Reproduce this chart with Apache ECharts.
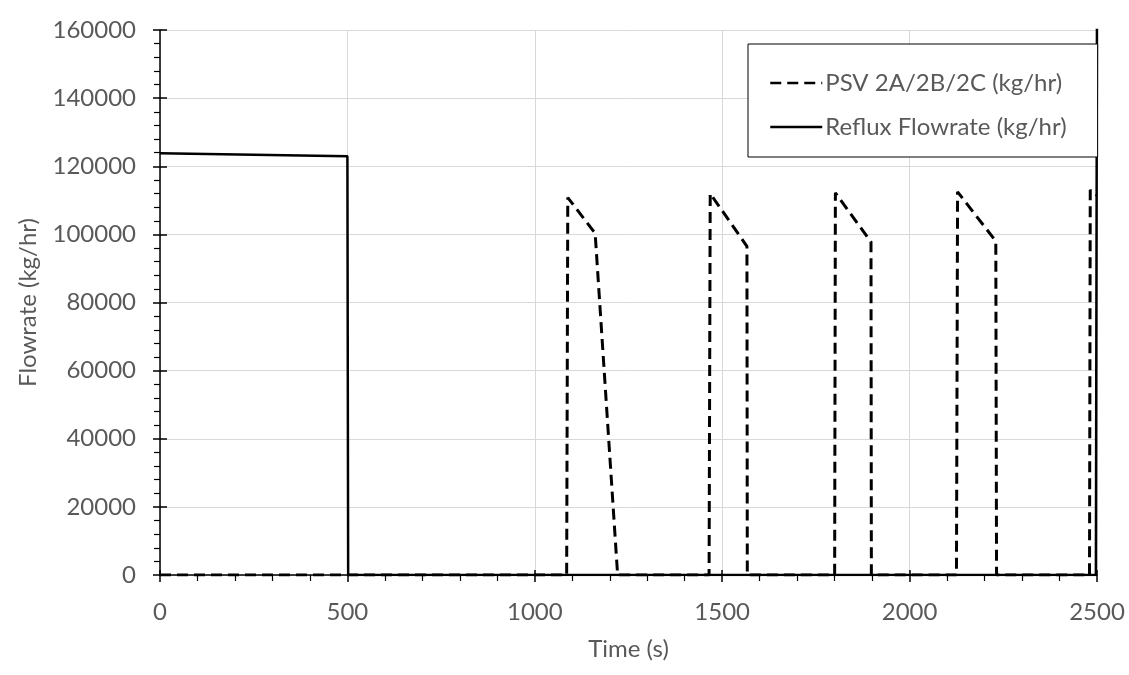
<!DOCTYPE html>
<html>
<head>
<meta charset="utf-8">
<script src="https://cdn.jsdelivr.net/npm/echarts@6/dist/echarts.min.js"></script>
<style>
html,body{margin:0;padding:0;background:#fff;}
#chart{width:1129px;height:675px;}
</style>
</head>
<body>
<div id="chart"></div>
<script>
// Time (s) and flowrate (kg/hr)
const psvTime  = [0, 1085, 1088, 1161, 1221, 1465, 1468, 1566, 1567, 1800, 1802, 1897, 1898, 2125, 2128, 2230, 2232, 2480, 2482, 2500];
const psvFlow  = [0, 0, 110800, 100300, 0, 0, 112000, 96500, 0, 0, 112200, 97800, 0, 0, 112500, 98000, 0, 0, 113000, 111500];
const refluxTime = [0, 500, 502, 2497, 2500];
const refluxFlow = [123800, 122900, 0, 0, 170000];
const seriesNames = ['PSV 2A/2B/2C (kg/hr)', 'Reflux Flowrate (kg/hr)'];
const xTitle = 'Time (s)';
const yTitle = 'Flowrate (kg/hr)';

const font = 'Lato, "Open Sans", sans-serif';
const textColor = '#595959';
const pair = (xs, ys) => xs.map((x, i) => [x, ys[i]]);

const chart = echarts.init(document.getElementById('chart'), null, {renderer: 'canvas'});
const baseX = {type: 'value', min: 0, max: 2500, interval: 500, position: 'bottom'};
const baseY = {type: 'value', min: 0, max: 160000, interval: 20000, position: 'left'};
chart.setOption({
  animation: false,
  backgroundColor: '#ffffff',
  textStyle: {fontFamily: font},
  grid: {left: 160, right: 32, top: 30, bottom: 100, containLabel: false},
  legend: {
    orient: 'vertical',
    left: 748, top: 44,
    padding: [27, 31, 18, 21],
    itemGap: 20,
    itemWidth: 52, itemHeight: 14,
    borderColor: '#000', borderWidth: 1,
    backgroundColor: '#fff',
    itemStyle: {opacity: 0},
    lineStyle: {width: 2.5},
    textStyle: {fontFamily: font, fontSize: 24, color: textColor, padding: [0, 0, 0, -2]},
    data: seriesNames
  },
  xAxis: [
    Object.assign({}, baseX, {
      name: xTitle, nameLocation: 'middle', nameGap: 62,
      nameTextStyle: {fontFamily: font, fontSize: 24, color: textColor},
      axisLine: {show: true, onZero: false, lineStyle: {color: '#000', width: 1.5}},
      axisTick: {show: true, inside: false, length: 7, lineStyle: {color: '#000', width: 1.5}},
      minorTick: {show: true, splitNumber: 5, length: 6, lineStyle: {color: '#000', width: 1.2}},
      axisLabel: {fontFamily: font, fontSize: 24, color: textColor, margin: 25, formatter: v => String(v)},
      splitLine: {show: true, lineStyle: {color: '#d9d9d9', width: 1}}
    }),
    Object.assign({}, baseX, {
      axisLine: {show: false, onZero: false},
      axisTick: {show: true, inside: true, length: 5, lineStyle: {color: '#000', width: 1.5}},
      axisLabel: {show: false},
      splitLine: {show: false}
    })
  ],
  yAxis: [
    Object.assign({}, baseY, {
      name: yTitle, nameLocation: 'middle', nameGap: 120,
      nameTextStyle: {fontFamily: font, fontSize: 24, color: textColor},
      axisLine: {show: true, onZero: false, lineStyle: {color: '#000', width: 1.5}},
      axisTick: {show: true, inside: false, length: 7, lineStyle: {color: '#000', width: 1.5}},
      minorTick: {show: true, splitNumber: 5, length: 6, lineStyle: {color: '#000', width: 1.2}},
      axisLabel: {fontFamily: font, fontSize: 24, color: textColor, margin: 24, formatter: v => String(v)},
      splitLine: {show: true, lineStyle: {color: '#d9d9d9', width: 1}}
    }),
    Object.assign({}, baseY, {
      axisLine: {show: false, onZero: false},
      axisTick: {show: true, inside: true, length: 7, lineStyle: {color: '#000', width: 1.5}},
      axisLabel: {show: false},
      splitLine: {show: false}
    })
  ],
  series: [
    {
      name: seriesNames[0], type: 'line', xAxisIndex: 0, yAxisIndex: 0,
      data: pair(psvTime, psvFlow),
      symbol: 'none', showSymbol: false, clip: true,
      lineStyle: {color: '#000', width: 3, type: [11, 6]},
      itemStyle: {color: '#000'}, z: 3
    },
    {
      name: seriesNames[1], type: 'line', xAxisIndex: 0, yAxisIndex: 0,
      data: pair(refluxTime, refluxFlow),
      symbol: 'none', showSymbol: false, clip: true,
      lineStyle: {color: '#000', width: 2.5, type: 'solid'},
      itemStyle: {color: '#000'}, z: 2
    }
  ]
});
</script>
</body>
</html>
